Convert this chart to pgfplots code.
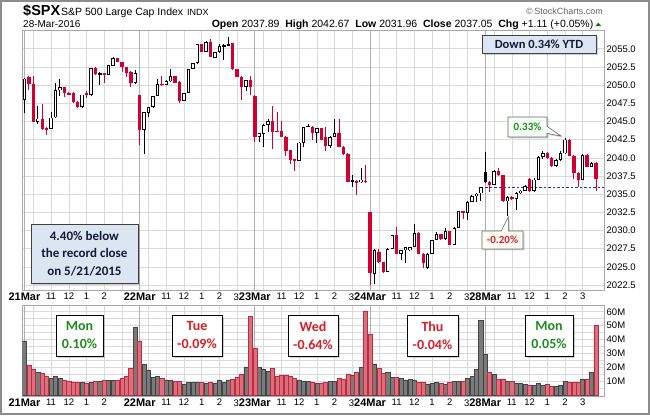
\documentclass[border=0pt]{standalone}
\usepackage{pgfplots}
\pgfplotsset{compat=1.18}
\usepackage{pgfplotstable}
\usepackage{fontspec}
\setmainfont{Liberation Sans}
\newfontfamily\calib{Carlito}
\usetikzlibrary{shadows,shapes.callouts}
\definecolor{cred}{HTML}{D20030}
\definecolor{volgray}{HTML}{7A7A7A}
\definecolor{volgrayd}{HTML}{444444}
\definecolor{volred}{HTML}{D8707E}
\definecolor{volredd}{HTML}{C02A3E}
\definecolor{gridgray}{HTML}{DADADA}
\definecolor{daygray}{HTML}{B0B0B0}
\definecolor{axgray}{HTML}{A8A8A8}
\definecolor{outgray}{HTML}{8C8C8C}
\definecolor{boxblue}{HTML}{DCE6F2}
\definecolor{boxtext}{HTML}{14183A}
\definecolor{cgreen}{HTML}{1E8C1E}
\definecolor{ctred}{HTML}{D81E28}
\definecolor{dashblue}{HTML}{2233BB}

\pgfplotstableread{
x o h l c t v vc
0 2047.95 2050.95 2046.2 2050.9 0 38.9 0
1 2051.15 2051.3 2049.3 2050.1 1 21.6 1
2 2050.1 2051.25 2044.95 2044.95 1 18.7 1
3 2044.95 2047.1 2044.65 2045.4 0 16.3 0
4 2045.4 2047.4 2043.8 2043.95 1 15.6 1
5 2044.1 2044.2 2043.2 2043.95 1 13.2 1
6 2043.95 2046.35 2043.9 2045.55 0 12 0
7 2045.55 2050.35 2045.5 2049.3 0 13.2 0
8 2049.3 2050.85 2048.55 2049.7 0 12 0
9 2049.7 2049.75 2048.4 2048.85 1 10.8 1
10 2048.95 2049.1 2048.6 2048.75 1 10 1
11 2048.85 2049.1 2047.6 2047.65 1 9.1 1
12 2047.7 2047.75 2046.9 2046.95 1 9.1 1
13 2046.95 2048.7 2046.9 2048.7 0 9.1 0
14 2048.95 2049.2 2048.2 2048.6 1 8.3 1
15 2048.6 2052.4 2048.55 2052.3 0 9.1 0
16 2052.4 2052.45 2051.4 2051.5 1 10 1
17 2051.5 2051.8 2050.0 2051.7 0 10 0
18 2051.6 2051.7 2050.3 2051.4 1 10.5 1
19 2051.4 2052.8 2051.35 2052.75 0 10.5 0
20 2052.7 2053.8 2052.65 2053.7 0 10.5 0
21 2053.7 2053.75 2053.15 2053.2 1 10.5 1
22 2053.2 2053.25 2051.85 2052.45 1 11.7 1
23 2052.5 2052.55 2051.15 2051.7 1 13.2 1
24 2051.85 2051.9 2049.7 2050.25 1 19.2 1
25 2050.25 2052.1 2050.2 2051.6 0 48.7 0
26 2048.6 2048.65 2041.8 2043.8 1 38.9 1
27 2043.8 2046.3 2040.6 2046.3 0 22.1 0
28 2046.2 2047.0 2045.6 2047.0 0 18 0
29 2047.0 2048.5 2046.9 2048.5 0 12.7 0
30 2048.5 2050.8 2048.45 2050.15 0 13.6 0
31 2050.2 2051.25 2049.9 2050.0 1 11.7 1
32 2050.0 2050.65 2049.95 2050.6 0 10.8 0
33 2050.5 2052.2 2050.45 2051.25 0 10.8 0
34 2051.25 2051.3 2050.25 2050.3 1 9.8 1
35 2050.5 2050.55 2047.5 2047.85 1 10 1
36 2047.85 2048.95 2047.8 2048.9 0 7.6 0
37 2048.9 2052.2 2048.85 2052.2 0 9.1 0
38 2052.2 2053.05 2052.15 2053.0 0 8.8 0
39 2053.0 2055.7 2052.95 2055.65 0 8.8 0
40 2055.65 2055.7 2054.55 2054.6 1 8.8 1
41 2054.6 2056.05 2054.55 2055.9 0 8.3 0
42 2055.9 2056.35 2053.8 2053.9 1 8.8 1
43 2053.8 2054.55 2053.7 2054.5 0 8.6 0
44 2054.5 2055.65 2054.45 2055.4 0 10.8 0
45 2055.4 2055.65 2053.4 2055.5 0 9.3 0
46 2055.55 2056.65 2055.4 2055.6 0 10.8 0
47 2055.75 2055.8 2052.1 2052.17 1 11.2 1
48 2052.17 2052.2 2051.1 2051.16 1 12.7 1
49 2051.16 2051.2 2048.0 2049.78 1 15.1 1
50 2049.78 2050.75 2049.2 2050.7 0 19.9 0
51 2050.7 2051.25 2048.7 2049.8 1 56.9 1
52 2048.55 2048.6 2042.2 2042.9 1 33.6 1
53 2042.9 2043.4 2042.2 2043.35 0 19.9 0
54 2043.3 2044.6 2041.5 2044.5 0 18.4 0
55 2044.5 2045.4 2043.5 2045.1 0 16.8 0
56 2045.1 2047.1 2041.2 2043.6 1 19.2 1
57 2043.7 2046.3 2043.5 2043.6 1 13.6 1
58 2043.7 2045.1 2042.8 2042.9 1 14.4 1
59 2042.9 2042.95 2040.2 2041.0 1 14.4 1
60 2041.05 2041.1 2039.2 2039.7 1 13.2 1
61 2039.8 2039.85 2038.2 2039.6 1 11.7 1
62 2039.6 2042.15 2039.55 2042.1 0 10.3 0
63 2042.1 2044.3 2041.5 2044.25 0 10 0
64 2044.3 2044.7 2044.2 2044.4 0 9.6 0
65 2044.3 2044.35 2042.45 2043.4 1 8.8 1
66 2043.4 2044.1 2042.0 2044.05 0 8.3 0
67 2044.05 2044.1 2042.4 2042.45 1 8.3 1
68 2042.9 2044.3 2040.95 2041.6 1 9.1 1
69 2041.6 2043.0 2041.4 2042.9 0 10 0
70 2042.9 2045.3 2042.85 2043.45 0 10 0
71 2043.45 2045.3 2041.5 2041.55 1 12 1
72 2041.55 2041.6 2040.45 2040.5 1 11.2 1
73 2040.6 2040.65 2036.65 2036.7 1 14.8 1
74 2036.9 2037.6 2036.0 2036.8 2 13.9 0
75 2036.85 2036.9 2034.9 2036.6 1 16.3 1
76 2036.7 2038.55 2036.6 2037.0 0 19.9 0
77 2036.85 2039.0 2036.55 2036.7 1 60 1
78 2032.55 2032.6 2022.5 2024.1 1 43.9 1
79 2024.0 2027.4 2022.6 2027.3 0 22 0
80 2027.1 2027.5 2025.6 2025.7 1 19.2 1
81 2025.7 2025.75 2024.2 2024.3 1 15.6 1
82 2024.3 2027.55 2024.25 2027.5 0 16.3 0
83 2027.5 2029.4 2027.45 2029.35 0 12.7 0
84 2029.4 2030.5 2026.75 2026.8 1 12.4 1
85 2026.8 2027.35 2025.9 2027.3 0 12 0
86 2027.3 2027.8 2025.5 2027.75 0 10.8 0
87 2027.3 2027.8 2027.2 2027.75 0 11.2 0
88 2027.75 2030.9 2027.7 2029.7 0 10.8 0
89 2029.7 2029.75 2026.75 2026.8 1 9.1 1
90 2026.8 2026.85 2024.8 2025.5 1 9.1 1
91 2024.9 2026.85 2024.7 2026.8 0 7.9 0
92 2026.8 2028.75 2026.75 2028.7 0 8.3 0
93 2028.7 2029.8 2028.65 2029.5 0 9.1 0
94 2029.5 2029.55 2028.75 2028.8 1 8.3 1
95 2028.8 2030.3 2028.75 2029.9 0 7.6 0
96 2029.9 2029.95 2027.95 2028.0 1 9.1 1
97 2028.0 2030.45 2027.95 2030.4 0 10 0
98 2030.4 2032.75 2030.35 2032.7 0 10 0
99 2032.7 2032.75 2031.6 2032.4 1 10 1
100 2032.4 2034.0 2031.4 2033.95 0 12 0
101 2033.95 2034.85 2033.9 2034.8 0 13.2 0
102 2034.8 2035.15 2034.0 2035.1 0 18.4 0
103 2035.1 2036.05 2034.0 2035.95 0 54 0
104 2038.1 2040.85 2036.6 2036.7 2 29.5 0
105 2036.7 2036.8 2035.3 2036.3 1 16.3 1
106 2036.3 2038.3 2036.2 2038.2 0 14.8 0
107 2038.2 2038.6 2037.5 2037.6 1 11.5 1
108 2037.6 2037.7 2033.9 2034.0 1 11.5 1
109 2034.0 2034.7 2031.96 2034.65 0 10 0
110 2034.65 2034.8 2034.2 2034.3 1 10 1
111 2034.3 2035.3 2032.8 2035.2 0 8.3 0
112 2035.2 2035.6 2035.0 2035.5 0 8.3 0
113 2035.5 2036.3 2035.4 2036.1 0 7.6 0
114 2037.1 2037.3 2035.3 2035.4 1 7.1 1
115 2035.4 2037.2 2035.3 2037.0 0 6.7 0
116 2037.0 2040.3 2036.9 2040.1 0 8.3 0
117 2040.1 2040.9 2039.9 2040.7 0 7.1 0
118 2040.7 2040.8 2039.8 2040.0 1 7.9 1
119 2040.0 2040.1 2038.8 2038.9 1 6.4 1
120 2038.9 2039.8 2038.8 2039.7 0 6.4 0
121 2039.7 2040.9 2039.6 2040.6 0 7.1 0
122 2040.6 2042.67 2040.5 2042.5 0 10 0
123 2042.5 2042.6 2040.2 2040.3 1 9.1 1
124 2040.3 2040.4 2037.1 2037.9 1 9.1 1
125 2037.9 2038.0 2036.0 2037.0 1 9.1 1
126 2037.0 2040.5 2036.9 2040.4 0 11.5 0
127 2040.4 2040.5 2038.7 2038.8 1 11.5 1
128 2038.8 2039.4 2038.7 2039.3 0 16.3 0
129 2039.3 2039.4 2035.4 2037.05 1 50.4 1
}\pdata

\pgfplotsset{timeaxis/.style={
  scale only axis, width=581.3pt, xmin=-0.406, xmax=130.81,
  axis line style={draw=axgray, line width=0.8pt},
  major tick length=0pt, minor tick length=0pt,
  xtick={2,6,10,14,18,22,28,32,36,40,44,48,54,58,62,66,70,74,80,84,88,92,96,100,106,110,114,118,122,126},
  xticklabels={{},11,12,1,2,{},{},11,12,1,2,{},{},11,12,1,2,{},{},11,12,1,2,{},{},11,12,1,2,3},
  extra x ticks={0,26,52,78,104},
  extra x tick labels={21Mar,22Mar,{\llap{\mdseries\fontsize{9.5}{11}\selectfont 3}23Mar},{\llap{\mdseries\fontsize{9.5}{11}\selectfont 3}24Mar},{\llap{\mdseries\fontsize{9.5}{11}\selectfont 3}28Mar}},
  extra x tick style={major grid style={draw=daygray, line width=1pt}, xticklabel style={font=\fontsize{11}{12}\selectfont\bfseries}},
  xmajorgrids, ymajorgrids,
  major grid style={draw=gridgray, line width=0.6pt},
  xticklabel style={font=\fontsize{9.5}{11}\selectfont, inner sep=2.5pt},
  yticklabel style={font=\fontsize{9.5}{11}\selectfont, inner sep=2.5pt},
  yticklabel pos=right,
}}

\begin{document}
\begin{tikzpicture}
\useasboundingbox (0pt,0pt) rectangle (650pt,415pt);
\fill[white] (0pt,0pt) rectangle (650pt,415pt);

% price panel
\begin{axis}[timeaxis, at={(22.7pt,125pt)}, anchor=south west, height=259.3pt,
  ymin=2021.82, ymax=2057.48,
  ytick={2022.5,2025,2027.5,2030,2032.5,2035,2037.5,2040,2042.5,2045,2047.5,2050,2052.5,2055},
  yticklabel={\pgfmathprintnumber[fixed,fixed zerofill,precision=1,1000 sep={},assume math mode=true]{\tick}},
]
\addplot[dashblue, line width=0.9pt, dash pattern=on 2.5pt off 2pt] coordinates {(104,2035.94) (130.81,2035.94)};
\addplot[draw=none, restrict expr to domain={\thisrow{t}}{0.5:1.5},
  error bars/.cd, y dir=both, y explicit, error mark=none,
  error bar style={draw=cred, line width=0.9pt}]
  table[x=x, y expr={(\thisrow{h}+\thisrow{l})/2}, y error expr={(\thisrow{h}-\thisrow{l})/2}] {\pdata};
\addplot[draw=none, restrict expr to domain={abs(\thisrow{t}-1)}{0.5:2},
  error bars/.cd, y dir=both, y explicit, error mark=none,
  error bar style={draw=black, line width=0.9pt}]
  table[x=x, y expr={(\thisrow{h}+\thisrow{l})/2}, y error expr={(\thisrow{h}-\thisrow{l})/2}] {\pdata};
\addplot[draw=none, restrict expr to domain={\thisrow{t}}{0.5:1.5},
  error bars/.cd, y dir=both, y explicit, error mark=none,
  error bar style={draw=cred, line width=3.4pt}]
  table[x=x, y expr={(\thisrow{o}+\thisrow{c})/2}, y error expr={max(abs(\thisrow{c}-\thisrow{o})/2,0.07)}] {\pdata};
\addplot[draw=none, restrict expr to domain={\thisrow{t}}{1.5:2.5},
  error bars/.cd, y dir=both, y explicit, error mark=none,
  error bar style={draw=black, line width=3.4pt}]
  table[x=x, y expr={(\thisrow{o}+\thisrow{c})/2}, y error expr={max(abs(\thisrow{c}-\thisrow{o})/2,0.07)}] {\pdata};
\addplot[draw=none, restrict expr to domain={\thisrow{t}}{-0.5:0.5},
  error bars/.cd, y dir=both, y explicit, error mark=none,
  error bar style={draw=black, line width=3.4pt}]
  table[x=x, y expr={(\thisrow{o}+\thisrow{c})/2}, y error expr={max(abs(\thisrow{c}-\thisrow{o})/2,0.08)}] {\pdata};
\addplot[draw=none, restrict expr to domain={\thisrow{t}}{-0.5:0.5},
  error bars/.cd, y dir=both, y explicit, error mark=none,
  error bar style={draw=white, line width=1.6pt}]
  table[x=x, y expr={(\thisrow{o}+\thisrow{c})/2}, y error expr={max(abs(\thisrow{c}-\thisrow{o})/2-0.12,0)}] {\pdata};
\end{axis}

% volume panel
\begin{axis}[timeaxis, at={(22.7pt,19pt)}, anchor=south west, height=91pt,
  ymin=-0.8, ymax=64.86,
  ytick={10,20,30,40,50,60},
  minor ytick={5,15,25,35,45,55},
  yminorgrids, minor grid style={draw=gridgray, line width=0.6pt},
  yticklabel={\pgfmathprintnumber[assume math mode=true]{\tick}M},
]
\addplot[ybar, bar width=0.92, bar shift=0pt, fill=volgray, draw=volgrayd, line width=0.6pt,
  restrict expr to domain={\thisrow{vc}}{-0.5:0.5}] table[x=x, y=v] {\pdata};
\addplot[ybar, bar width=0.92, bar shift=0pt, fill=volred, draw=volredd, line width=0.6pt,
  restrict expr to domain={\thisrow{vc}}{0.5:1.5}] table[x=x, y=v] {\pdata};
\end{axis}

% header
\node[anchor=base west, inner sep=0, font=\fontsize{14.5}{16}\selectfont\bfseries] at (23pt,399pt) {\$SPX};
\node[anchor=base west, inner sep=0, font=\fontsize{10.5}{12}\selectfont] at (61pt,399pt) {S\&P 500 Large Cap Index};
\node[anchor=base west, inner sep=0, font=\fontsize{9}{10}\selectfont] at (187pt,399pt) {INDX};
\node[anchor=base west, inner sep=0, font=\fontsize{10}{12}\selectfont] at (23pt,387.8pt) {28-Mar-2016};
\node[anchor=base east, inner sep=0, font=\fontsize{10.5}{12}\selectfont] at (593.5pt,387.8pt) {\textbf{Open} 2037.89\ \ \textbf{High} 2042.67\ \ \textbf{Low} 2031.96\ \ \textbf{Close} 2037.05\ \ \textbf{Chg} +1.11 (+0.05\%)};
\fill[green!50!black] (595.3pt,388.8pt) -- (601.3pt,388.8pt) -- (598.3pt,392.3pt) -- cycle;
\node[anchor=base east, inner sep=0, font=\fontsize{9}{10}\selectfont, text=black!60] at (603pt,400pt) {\textcopyright\,StockCharts.com};

% annotations
\node[draw=black!75, line width=0.8pt, fill=boxblue, minimum width=114pt, minimum height=18pt, inner sep=0,
  drop shadow={shadow xshift=2pt, shadow yshift=-2pt, opacity=0.35},
  font=\calib\bfseries\fontsize{12.5}{14}\selectfont, text=boxtext] at (539pt,370.5pt) {Down 0.34\% YTD};
\node[draw=black!75, line width=0.8pt, fill=boxblue, minimum width=107pt, minimum height=59pt, inner sep=0, align=center,
  drop shadow={shadow xshift=2pt, shadow yshift=-2pt, opacity=0.35},
  font=\calib\bfseries\fontsize{13}{17.5}\selectfont, text=boxtext] at (84.4pt,161.5pt) {4.40\% below\\the record close\\on 5/21/2015};
\node[rectangle callout, callout absolute pointer={(561pt,279pt)}, draw=black!60, line width=0.6pt, fill=green!4!white,
  minimum width=39pt, minimum height=20pt, inner sep=0,
  drop shadow={shadow xshift=1.5pt, shadow yshift=-1.5pt, opacity=0.3},
  font=\calib\bfseries\fontsize{11}{13}\selectfont, text=cgreen] at (527.5pt,288pt) {0.33\%};
\node[rectangle callout, callout absolute pointer={(508.3pt,198pt)}, draw=black!60, line width=0.6pt, fill=yellow!4!white,
  minimum width=41pt, minimum height=18pt, inner sep=0,
  drop shadow={shadow xshift=1.5pt, shadow yshift=-1.5pt, opacity=0.3},
  font=\calib\bfseries\fontsize{11}{13}\selectfont, text=ctred] at (502.5pt,175pt) {-0.20\%};

% day boxes
\foreach \cx/\w/\d/\p/\col in {79.5/47/Mon/0.10\%/cgreen, 197/50/Tue/-0.09\%/ctred, 313/50/Wed/-0.64\%/ctred, 432.5/51/Thu/-0.04\%/ctred, 549/48/Mon/0.05\%/cgreen}{
  \node[draw=black, line width=0.9pt, fill=white, minimum width=\w pt, minimum height=41pt, inner sep=0, align=center,
    drop shadow={shadow xshift=2pt, shadow yshift=-2pt, opacity=0.35},
    font=\calib\bfseries\fontsize{14}{18}\selectfont, text=\col] at (\cx pt,79.5pt) {\d\\\p};
}

\draw[outgray, line width=1.6pt] (0.8pt,0.8pt) rectangle (649.2pt,414.2pt);
\end{tikzpicture}
\end{document}
